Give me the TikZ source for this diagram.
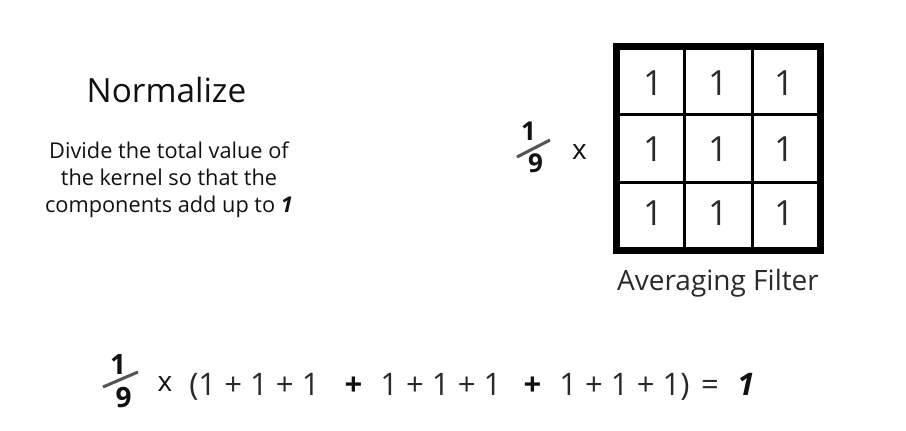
\documentclass[tikz,border=0pt]{standalone}
\usepackage{fontspec}
\setmainfont{Open Sans}
\usepackage{tikz}
\usetikzlibrary{positioning}
\definecolor{ink}{HTML}{111111}
\definecolor{thin}{HTML}{2A2A2A}
\definecolor{slash}{HTML}{555555}
\tikzset{
  title/.style={font=\fontsize{25}{30}\selectfont, text=ink, inner sep=0pt, anchor=base},
  body/.style={font=\fontsize{16.3}{20.2}\selectfont, text=ink, align=center, inner sep=0pt, anchor=base},
  cellnum/.style={font=\fontsize{26}{26}\selectfont, text=thin, inner sep=0pt},
  caption/.style={font=\fontsize{21}{21}\selectfont, text=thin, inner sep=0pt, anchor=base},
  fracsmall/.style={font=\fontsize{19.5}{19.5}\selectfont\bfseries, text=ink, inner sep=0pt},
  fracbig/.style={font=\fontsize{21}{21}\selectfont\bfseries, text=ink, inner sep=0pt},
  bar/.style={draw=slash, line width=2.3pt},
  times/.style={font=\fontsize{21}{21}\selectfont, text=ink, inner sep=0pt},
  eqn/.style={font=\fontsize{23.3}{23.3}\selectfont, text=thin, inner sep=0pt, anchor=base west},
  boldop/.style={font=\fontsize{23.3}{23.3}\selectfont\bfseries, text=ink, inner sep=0pt, anchor=base},
  gridline/.style={draw=black, line width=2.2pt},
  gridframe/.style={draw=black, line width=4.8pt}
}

\begin{document}
\begin{tikzpicture}[x=0.75pt,y=-0.75pt]
\path[use as bounding box, fill=white] (0,0) rectangle (906,431);

% left explanation
\node[title] (norm) at (166.5,103) {Normalize};
\node[body] (expl) at (169,212)
  {Divide the total value of\\the kernel so that the\\components add up to \textbf{\textit{1}}};

% averaging filter
\foreach \i/\p in {1/684.5,2/752.5}
  \draw[gridline] (\p,46.5) -- (\p,250.5);
\foreach \i/\p in {1/114.5,2/182.5}
  \draw[gridline] (616.5,\p) -- (820.5,\p);
\draw[gridframe] (616.5,46.5) rectangle (820.5,250.5);
\foreach \r/\y in {1/83,2/149,3/213}
  \foreach \c/\x in {1/653,2/718,3/784}
    \node[cellnum] (cell-\r-\c) at (\x,\y) {1};
\node[caption] (filtername) at (718,290) {Averaging Filter};

% 1/9 x filter
\node[fracsmall] (topnum) at (528.5,131.5) {1};
\node[fracsmall] (topden) at (535.5,163) {9};
\coordinate (topbarA) at (517,157);
\coordinate (topbarB) at (550,140);
\draw[bar] (topbarA) -- (topbarB);
\node[times] (toptimes) at (579.5,152.5) {x};

% sum of the kernel
\node[fracbig] (botnum) at (118,365) {1};
\node[fracbig] (botden) at (123.5,398) {9};
\coordinate (botbarA) at (103,387);
\coordinate (botbarB) at (138,372);
\draw[bar] (botbarA) -- (botbarB);
\node[times] (bottimes) at (165,384.5) {x};
\node[eqn] (row1) at (189,395) {(1 + 1 + 1};
\node[boldop] (plus1) at (353.5,395) {+};
\node[eqn] (row2) at (380,395) {1 + 1 + 1};
\node[boldop] (plus2) at (532.5,395) {+};
\node[eqn] (row3) at (559,395) {1 + 1 + 1)};
\node[eqn, anchor=base] (equals) at (710,395) {=};
\node[boldop] (result) at (746,395) {\textit{1}};
\end{tikzpicture}
\end{document}
